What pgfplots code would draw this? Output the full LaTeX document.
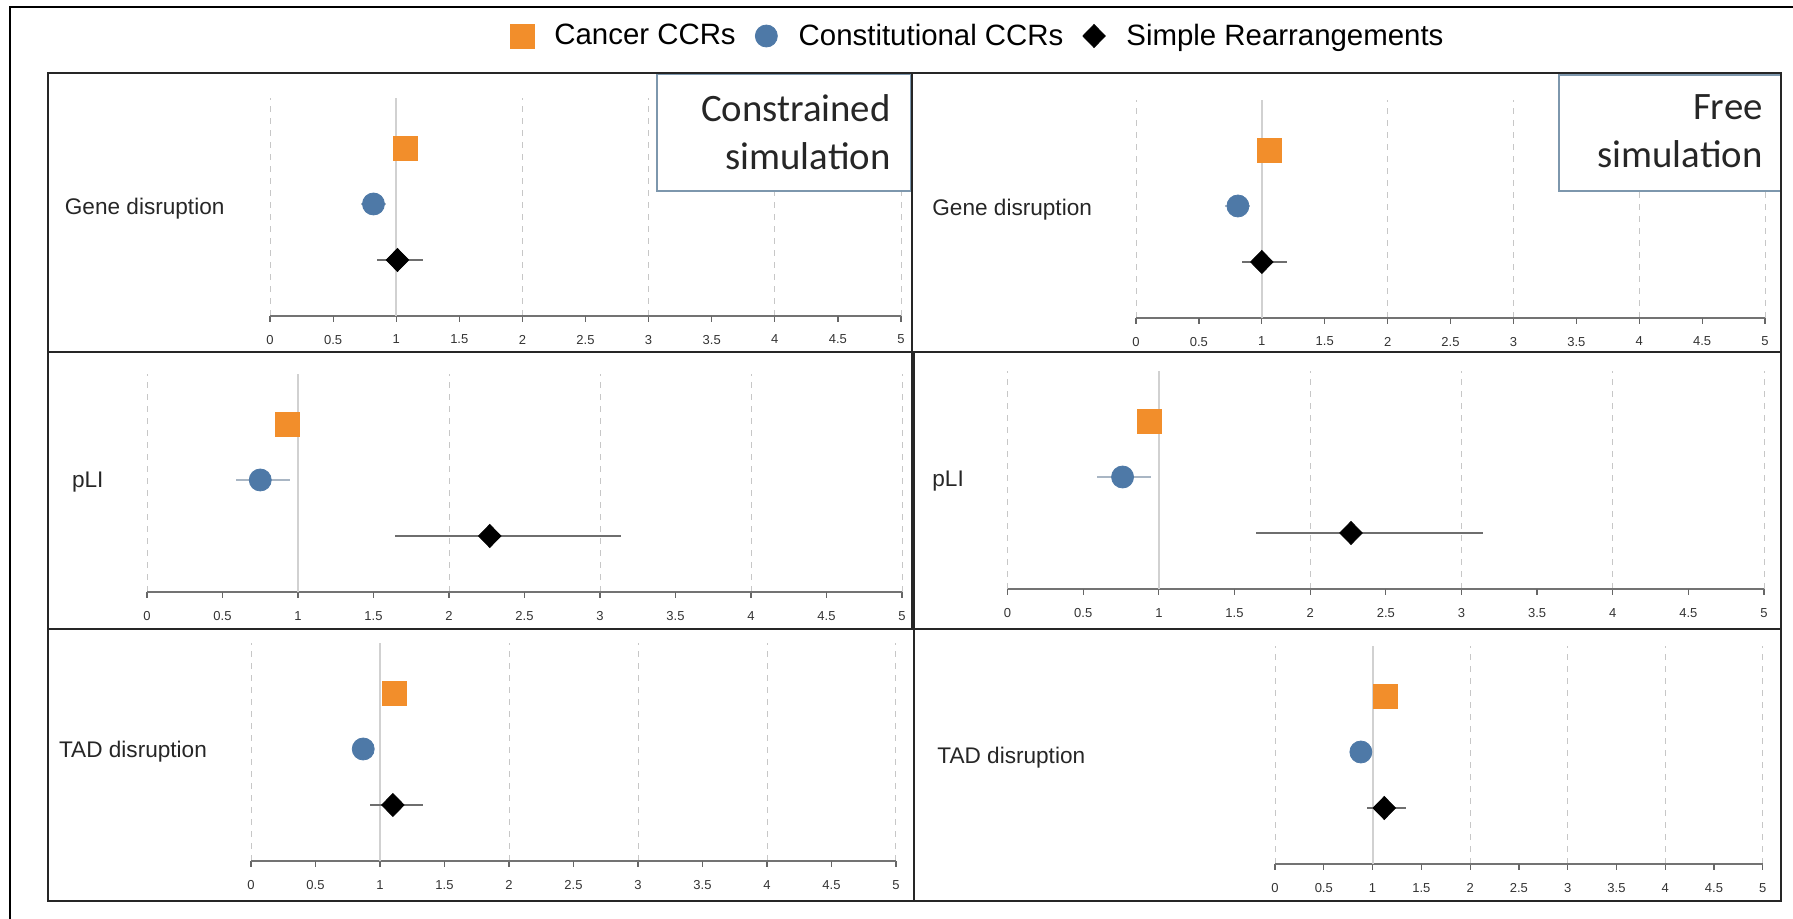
\documentclass[border=0pt]{standalone}
\usepackage{fontspec}
\setmainfont{Liberation Sans}
\newfontfamily\calibri{Carlito}
\usepackage{pgfplots}
\pgfplotsset{compat=1.18}

\definecolor{cancer}{HTML}{F28E2B}
\definecolor{constit}{HTML}{4E79A7}
\definecolor{boxline}{HTML}{7D97AD}
\definecolor{cibar}{HTML}{A9B6C4}
\definecolor{dibar}{HTML}{6E6E6E}

\tikzset{refline/.style={black!18, line width=1pt}}

\pgfplotsset{
  panel/.style={
    scale only axis, height=109.2pt, anchor=south west,
    xmin=0, xmax=5, ymin=0, ymax=3.9,
    axis x line*=bottom, axis y line=none,
    xtick={0,1,2,3,4,5},
    extra x ticks={0.5,1.5,2.5,3.5,4.5},
    extra x tick style={grid=none},
    xmajorgrids,
    major grid style={black!22, dash pattern=on 3pt off 3pt, line width=0.5pt},
    tick align=outside, major tick length=3pt,
    tick style={black!60, line width=0.6pt},
    x axis line style={black!55, line width=1pt},
    xticklabel style={font=\fontsize{6.5}{7}\selectfont, text=black!80, yshift=-3pt},
    /pgf/number format/assume math mode=true,
    clip=false,
  },
  sq/.style={only marks, mark=square*, mark size=6pt, color=cancer, forget plot},
  ci/.style={only marks, mark=*, mark size=5.5pt, color=constit, forget plot},
  di/.style={only marks, mark=diamond*, mark size=5.75pt, mark options={xscale=1.3}, color=black, forget plot},
  errbar/.style={forget plot, draw=none, mark=none,
    error bars/.cd, x dir=both, x explicit, error mark=none,
    error bar style={draw=#1, line width=1pt}},
  myleg/.style={legend image code/.code={%
    \path[draw=none, fill=none] (0pt,0pt) -- (26pt,0pt);
    \draw[mark repeat=2, mark phase=2, ##1, only marks] plot coordinates {(0pt,0pt) (11.8pt,0pt) (23.6pt,0pt)};}},
}

\begin{document}
\begin{tikzpicture}
\useasboundingbox (0,0) rectangle (896.5pt,459.5pt);

% ---------- top left: gene disruption, constrained ----------
\begin{axis}[panel, at={(135pt,301.5pt)}, width=315.5pt, myleg,
  legend style={at={(1.114,1.282)}, anchor=center, draw=none, fill=none,
    legend columns=3, font=\fontsize{14.7}{17}\selectfont,
    /tikz/every even column/.append style={column sep=1.5pt}},
]
\draw[refline] (axis cs:1,0) -- (axis cs:1,3.9);
\addplot[errbar=cibar] coordinates {(0.82,2) -= (0.10,0) += (0.10,0)};
\addplot[errbar=dibar] coordinates {(1.01,1) -= (0.16,0) += (0.20,0)};
\addplot[sq] coordinates {(1.07,3)};
\addplot[ci] coordinates {(0.82,2)};
\addplot[di] coordinates {(1.01,1)};
\addlegendimage{only marks, mark=square*, mark size=6pt, color=cancer}
\addlegendentry{Cancer CCRs}
\addlegendimage{only marks, mark=*, mark size=5.5pt, color=constit}
\addlegendentry{Constitutional CCRs}
\addlegendimage{only marks, mark=diamond*, mark size=5.75pt, mark options={xscale=1.3}, color=black}
\addlegendentry{Simple Rearrangements}
\end{axis}

% ---------- top right: gene disruption, free ----------
\begin{axis}[panel, at={(568pt,300.5pt)}, width=314.5pt]
\draw[refline] (axis cs:1,0) -- (axis cs:1,3.9);
\addplot[errbar=cibar] coordinates {(0.81,2) -= (0.10,0) += (0.10,0)};
\addplot[errbar=dibar] coordinates {(1.00,1) -= (0.16,0) += (0.20,0)};
\addplot[sq] coordinates {(1.06,3)};
\addplot[ci] coordinates {(0.81,2)};
\addplot[di] coordinates {(1.00,1)};
\end{axis}

% ---------- middle left: pLI, constrained ----------
\begin{axis}[panel, at={(73.5pt,163.5pt)}, width=377.5pt]
\draw[refline] (axis cs:1,0) -- (axis cs:1,3.9);
\addplot[errbar=cibar] coordinates {(0.75,2) -= (0.16,0) += (0.20,0)};
\addplot[errbar=dibar] coordinates {(2.27,1) -= (0.63,0) += (0.87,0)};
\addplot[sq] coordinates {(0.93,3)};
\addplot[ci] coordinates {(0.75,2)};
\addplot[di] coordinates {(2.27,1)};
\end{axis}

% ---------- middle right: pLI, free ----------
\begin{axis}[panel, at={(503.8pt,165pt)}, width=378.2pt]
\draw[refline] (axis cs:1,0) -- (axis cs:1,3.9);
\addplot[errbar=cibar] coordinates {(0.76,2) -= (0.17,0) += (0.19,0)};
\addplot[errbar=dibar] coordinates {(2.27,1) -= (0.63,0) += (0.87,0)};
\addplot[sq] coordinates {(0.935,3)};
\addplot[ci] coordinates {(0.76,2)};
\addplot[di] coordinates {(2.27,1)};
\end{axis}

% ---------- bottom left: TAD disruption, constrained ----------
\begin{axis}[panel, at={(125.5pt,29pt)}, width=322.5pt]
\draw[refline] (axis cs:1,0) -- (axis cs:1,3.9);
\addplot[errbar=cibar] coordinates {(0.87,2) -= (0.08,0) += (0.08,0)};
\addplot[errbar=dibar] coordinates {(1.10,1) -= (0.18,0) += (0.23,0)};
\addplot[sq] coordinates {(1.11,3)};
\addplot[ci] coordinates {(0.87,2)};
\addplot[di] coordinates {(1.10,1)};
\end{axis}

% ---------- bottom right: TAD disruption, free ----------
\begin{axis}[panel, at={(637.5pt,27.5pt)}, width=243.9pt]
\draw[refline] (axis cs:1,0) -- (axis cs:1,3.9);
\addplot[errbar=cibar] coordinates {(0.88,2) -= (0.08,0) += (0.08,0)};
\addplot[errbar=dibar] coordinates {(1.12,1) -= (0.18,0) += (0.22,0)};
\addplot[sq] coordinates {(1.13,3)};
\addplot[ci] coordinates {(0.88,2)};
\addplot[di] coordinates {(1.12,1)};
\end{axis}

% frames, boxes and row labels, in pixel units of the reference
\begin{scope}[x=0.5pt, y=-0.5pt, shift={(0pt,459.5pt)}]
  \draw[line width=1.2pt] (10,919) -- (10,7) -- (1793,7);

  \draw[boxline, fill=white, line width=0.7pt] (657,74) rectangle (911,191);
  \node[anchor=base east, inner sep=0, font=\calibri\fontsize{19.4}{23}\selectfont, text=black!85]
    at (891,122) {Constrained};
  \node[anchor=base east, inner sep=0, font=\calibri\fontsize{19.4}{23}\selectfont, text=black!85]
    at (891,170) {simulation};
  \draw[boxline, fill=white, line width=0.7pt] (1559,75) rectangle (1781,191);
  \node[anchor=base east, inner sep=0, font=\calibri\fontsize{19.4}{23}\selectfont, text=black!85]
    at (1763,120) {Free};
  \node[anchor=base east, inner sep=0, font=\calibri\fontsize{19.4}{23}\selectfont, text=black!85]
    at (1763,168) {simulation};

  \begin{scope}[line width=1pt, black!85]
    \draw (48,73) rectangle (912,352);
    \draw (912,73) rectangle (1781,352);
    \draw (48,352) rectangle (914,629);
    \draw (912,352) rectangle (1781,629);
    \draw (48,629) rectangle (914,901);
    \draw (914,629) rectangle (1781,901);
  \end{scope}

  \begin{scope}[every node/.style={anchor=base west, inner sep=0,
      font=\fontsize{11.3}{13}\selectfont, text=black!85}]
    \node at (64.5,215) {Gene disruption};
    \node at (932,216) {Gene disruption};
    \node at (71.6,488) {pLI};
    \node at (932,487) {pLI};
    \node at (58.7,758) {TAD disruption};
    \node at (937,764) {TAD disruption};
  \end{scope}
\end{scope}
\end{tikzpicture}
\end{document}
